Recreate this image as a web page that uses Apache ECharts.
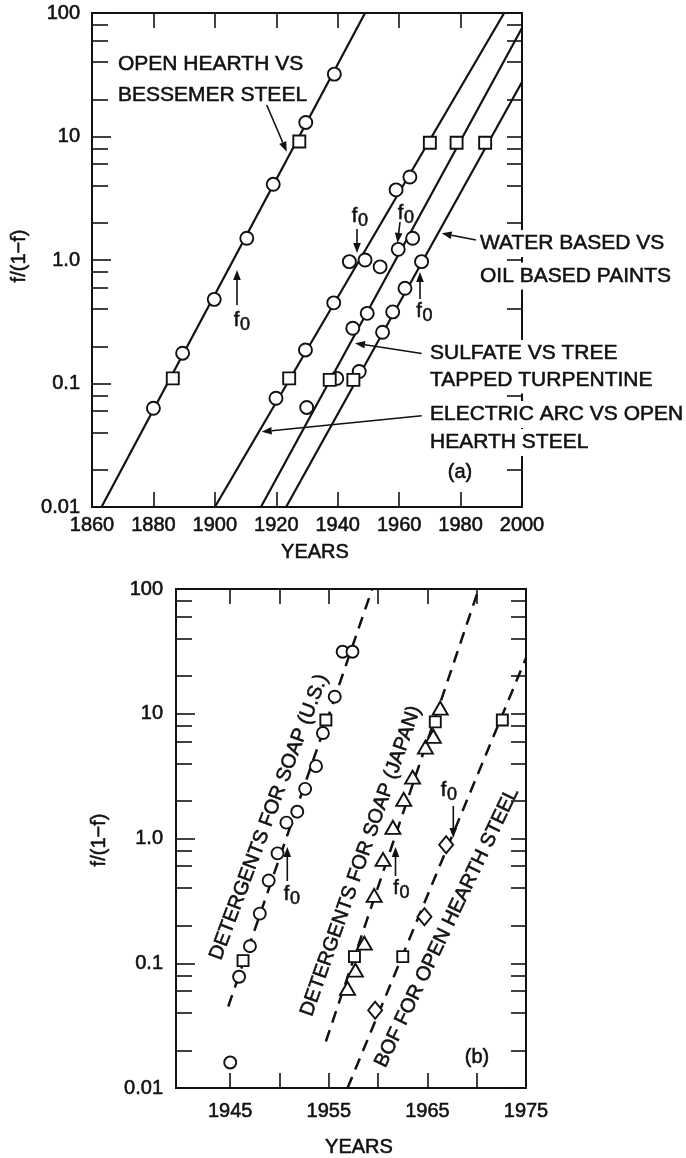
<!DOCTYPE html>
<html><head><meta charset="utf-8">
<script src="https://cdn.jsdelivr.net/npm/echarts@6/dist/echarts.min.js"></script>
<style>html,body{margin:0;padding:0;background:#fff}#c{width:686px;height:1158px}</style>
</head><body><div id="c"></div>
<script>
// ---------- data ----------
const yDecadeValues = [0.01, 0.1, 1, 10, 100];
const yDecadeLabels = ['0.01', '0.1', '1.0', '10', '100'];
const yMinorValues = [0.02,0.04,0.06,0.08,0.2,0.4,0.6,0.8,2,4,6,8,20,40,60,80];
const panelAYearTicks = [1860,1880,1900,1920,1940,1960,1980,2000];
const panelBYearTicks = [1945,1950,1955,1960,1965,1970];
const panelBYearLabels = [1945,1955,1965,1975];

// panel (a)
const openHearthCircles = [[1880,0.063],[1889.5,0.176],[1899.8,0.48],[1910.4,1.5],[1919,4.1],[1929.6,13],[1938.9,32]];
const openHearthSquares = [[1886.3,0.11],[1927.5,9.1]];
const openHearthFit = [[1863.1,0.01],[1948.9,100]];
const electricArcCircles = [[1919.9,0.076],[1929.5,0.187],[1938.7,0.45],[1943.8,0.97],[1948.9,1.0],[1953.8,0.88],[1959.0,3.7],[1963.5,4.7]];
const electricArcSquares = [[1924.2,0.11],[1970.0,8.9]];
const electricArcFit = [[1900,0.01],[1994.2,100]];
const sulfateCircles = [[1929.9,0.064],[1939.7,0.11],[1944.9,0.28],[1949.6,0.37],[1959.7,1.22],[1964.4,1.5]];
const sulfateSquares = [[1937.4,0.107],[1978.7,8.9]];
const sulfateFit = [[1915,0.01],[2000,75.5]];
const paintCircles = [[1947.0,0.125],[1954.6,0.26],[1957.9,0.38],[1961.9,0.59],[1967.3,0.97]];
const paintSquares = [[1945.1,0.107],[1988.0,8.9]];
const paintFit = [[1923.2,0.01],[2000,27.6]];

// panel (b)
const usCircles = [[1945.0,0.016],[1945.9,0.078],[1947.0,0.137],[1948.0,0.25],[1948.9,0.46],[1949.8,0.76],[1950.7,1.34],[1951.8,1.64],[1952.6,2.5],[1953.7,3.8],[1954.4,7.0],[1955.6,13.7],[1956.4,31.4],[1957.4,31.4]];
const usSquares = [[1946.3,0.105],[1954.7,8.9]];
const usFit = [[1944.8,0.045],[1959.4,100]];
const japanTriangles = [[1956.9,0.063],[1957.7,0.088],[1958.6,0.145],[1959.6,0.35],[1960.5,0.68],[1961.5,1.23],[1962.6,2.06],[1963.5,3.1],[1964.8,5.4],[1965.6,6.6],[1966.3,11.1]];
const japanSquares = [[1957.6,0.113],[1965.8,8.6]];
const japanFit = [[1954.7,0.0236],[1970.2,100]];
const bofDiamonds = [[1959.7,0.042],[1964.7,0.236],[1966.9,0.89]];
const bofSquares = [[1962.5,0.113],[1972.6,8.9]];
const bofFit = [[1956.9,0.01],[1975,28]];

// ---------- styling ----------
const FONT = '"Liberation Sans", Arial, Helvetica, sans-serif';
const INK = '#111';
const HEAVY = 0.55; // slight stroke to mimic the heavier printed type

function xAxes(gridIndex, min, max, tickVals, labelVals, margin) {
  const base = {type:'value', gridIndex, min, max, splitLine:{show:false},
    axisLine:{onZero:false, lineStyle:{color:INK, width:2}}};
  const tick = {inside:true, length:15, customValues:tickVals, lineStyle:{color:INK, width:1.6}};
  return [
    Object.assign({}, base, {position:'bottom', axisTick:tick,
      axisLabel:{customValues:labelVals, color:INK, fontSize:20, fontFamily:FONT, margin, showMinLabel:true, showMaxLabel:true,
        textBorderColor:INK, textBorderWidth:HEAVY,
        formatter: v => String(Math.round(v))}}),
    Object.assign({}, base, {position:'top', axisTick:tick, axisLabel:{show:false}})
  ];
}
function yAxes(gridIndex, margin) {
  const base = {type:'log', logBase:10, gridIndex, min:0.01, max:100, splitLine:{show:false},
    axisLine:{lineStyle:{color:INK, width:2}}};
  const ls = {color:INK, width:1.6};
  return [
    Object.assign({}, base, {position:'left', axisTick:{inside:true, length:19, customValues:yDecadeValues, lineStyle:ls},
      axisLabel:{customValues:yDecadeValues, color:INK, fontSize:20, fontFamily:FONT, margin, showMinLabel:true, showMaxLabel:true,
        textBorderColor:INK, textBorderWidth:HEAVY,
        formatter: v => yDecadeLabels[Math.round(Math.log10(v)) + 2]}}),
    Object.assign({}, base, {position:'left', axisTick:{inside:true, length:16, customValues:yMinorValues, lineStyle:ls}, axisLabel:{show:false}}),
    Object.assign({}, base, {position:'right', axisTick:{inside:true, length:15, customValues:yDecadeValues.concat(yMinorValues), lineStyle:ls}, axisLabel:{show:false}})
  ];
}
function fitLine(data, xi, yi, dashed) {
  return {type:'line', data, xAxisIndex:xi, yAxisIndex:yi, symbol:'none', silent:true, z:2,
    lineStyle:{color:INK, width:dashed ? 2.5 : 2.2, type:dashed ? [12,8] : 'solid'}};
}
function marks(data, xi, yi, symbol, size, z) {
  return {type:'scatter', data, xAxisIndex:xi, yAxisIndex:yi, symbol, symbolSize:size, silent:true, z:z || 3,
    itemStyle:{color:'#fff', borderColor:INK, borderWidth:1.9, opacity:1}};
}

// ---------- annotations (pixel layout) ----------
const G = [];
function txt(text, x, y, o) {
  const st = Object.assign({text, fill:INK, fontSize:21, fontFamily:FONT, align:'left', verticalAlign:'middle',
    textAlign:'left', textVerticalAlign:'middle', stroke:INK, lineWidth:HEAVY}, o || {});
  const el = {type:'text', x, y, z:100, style:st};
  if (o && o.rot) el.rotation = o.rot;
  G.push(el);
}
function arrow(x1, y1, x2, y2) {
  const a = Math.atan2(y2 - y1, x2 - x1), L = 10, W = 3.8;
  const bx = x2 - L * Math.cos(a), by = y2 - L * Math.sin(a);
  const px = -Math.sin(a) * W, py = Math.cos(a) * W;
  G.push({type:'line', z:100, shape:{x1, y1, x2:bx, y2:by}, style:{stroke:INK, lineWidth:1.6}});
  G.push({type:'polygon', z:100, shape:{points:[[x2,y2],[bx+px,by+py],[bx-px,by-py]]}, style:{fill:INK}});
}
function f0(x, y) {
  txt('f', x, y, {fontSize:20, align:'center', textAlign:'center'});
  txt('0', x + 8.5, y + 5, {fontSize:18, align:'center', textAlign:'center'});
}
const WB = {backgroundColor:'#fff', padding:[3,2]};

// panel (a)
txt('OPEN HEARTH VS', 118, 64.5);
txt('BESSEMER STEEL', 118, 95.5);
arrow(266.7, 105, 286.7, 151.7);
txt('WATER BASED VS', 478, 243.5, WB);
txt('OIL BASED PAINTS', 478, 276, WB);
arrow(476, 240, 441.7, 233.3);
txt('SULFATE VS TREE', 428, 353.5, WB);
txt('TAPPED TURPENTINE', 428, 380, WB);
arrow(421.7, 353.5, 355, 343.3);
txt('ELECTRIC ARC VS OPEN', 428, 414.5, WB);
txt('HEARTH STEEL', 428, 442.5, WB);
arrow(421.7, 415.7, 261.7, 431.7);
txt('(a)', 460, 472, {fontSize:20, align:'center', textAlign:'center', backgroundColor:'#fff', padding:[2,2]});
f0(236.5, 320); arrow(237, 305, 237, 270);
f0(354.5, 216); arrow(357, 229, 357, 253);
f0(400.5, 213.5); arrow(400, 222, 397.5, 243);
f0(419, 311.5); arrow(420, 299, 420, 272);
txt('YEARS', 315, 552, {fontSize:20, align:'center', textAlign:'center'});
txt('f/(1\u2212f)', 19, 256, {fontSize:20, align:'center', textAlign:'center', rot:Math.PI/2});

// panel (b)
txt('DETERGENTS FOR SOAP (U.S.)', 269, 817, {fontSize:20, align:'center', textAlign:'center', rot:69.4*Math.PI/180});
txt('DETERGENTS FOR SOAP (JAPAN)', 361, 861, {fontSize:20, align:'center', textAlign:'center', rot:70.6*Math.PI/180});
txt('BOF FOR OPEN HEARTH STEEL', 447, 927.5, {fontSize:20, align:'center', textAlign:'center', rot:64.3*Math.PI/180});
f0(286.5, 894); arrow(287.3, 881, 287.3, 847);
f0(396, 888); arrow(395.5, 876, 395.5, 847);
f0(443.5, 790); arrow(453.3, 806, 453.3, 838);
txt('(b)', 477, 1057, {fontSize:20, align:'center', textAlign:'center'});
txt('YEARS', 359, 1147, {fontSize:20, align:'center', textAlign:'center'});
txt('f/(1\u2212f)', 99, 840, {fontSize:20, align:'center', textAlign:'center', rot:Math.PI/2});

// ---------- chart ----------
const chart = echarts.init(document.getElementById('c'), null, {renderer:'canvas'});
chart.setOption({
  animation:false,
  backgroundColor:'#fff',
  grid:[
    {left:92, top:13, width:430, height:494},
    {left:176, top:589, width:350, height:499}
  ],
  xAxis: xAxes(0, 1860, 2000, panelAYearTicks, panelAYearTicks, 8)
    .concat(xAxes(1, 1939.5, 1975, panelBYearTicks, panelBYearLabels, 13)),
  yAxis: yAxes(0, 12).concat(yAxes(1, 13)),
  series:[
    fitLine(openHearthFit, 0, 0), fitLine(electricArcFit, 0, 0), fitLine(sulfateFit, 0, 0), fitLine(paintFit, 0, 0),
    marks(openHearthCircles, 0, 0, 'circle', 13), marks(electricArcCircles, 0, 0, 'circle', 13),
    marks(sulfateCircles, 0, 0, 'circle', 13), marks(paintCircles, 0, 0, 'circle', 13),
    marks(openHearthSquares, 0, 0, 'rect', 12, 4), marks(electricArcSquares, 0, 0, 'rect', 12, 4),
    marks(sulfateSquares, 0, 0, 'rect', 12, 4), marks(paintSquares, 0, 0, 'rect', 12, 4),
    fitLine(usFit, 2, 3, true), fitLine(japanFit, 2, 3, true), fitLine(bofFit, 2, 3, true),
    marks(usCircles, 2, 3, 'circle', 12), marks(japanTriangles, 2, 3, 'triangle', [15,13]),
    marks(bofDiamonds, 2, 3, 'diamond', [14,17]),
    marks(usSquares, 2, 3, 'rect', 11, 4), marks(japanSquares, 2, 3, 'rect', 11, 4), marks(bofSquares, 2, 3, 'rect', 11, 4)
  ],
  graphic:{elements:G}
});
</script>
</body></html>
